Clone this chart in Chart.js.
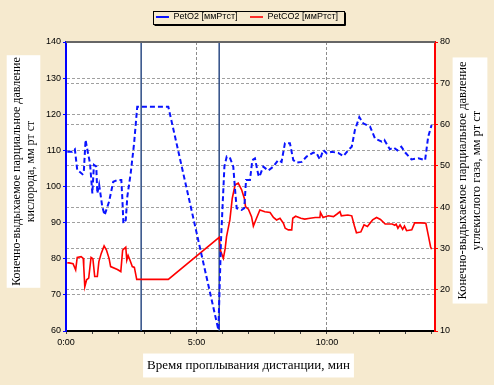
<!DOCTYPE html>
<html>
<head>
<meta charset="utf-8">
<script src="https://cdn.jsdelivr.net/npm/chart.js@4.4.1/dist/chart.umd.min.js"></script>
<style>
  html, body { margin: 0; padding: 0; background: #f6eacf; }
  #wrap { width: 494px; height: 385px; }
</style>
</head>
<body>
<div id="wrap"><canvas id="petChart" width="494" height="385"></canvas></div>
<script>
// time in minutes, values in mm Hg
const o2Minutes = [0.05, 0.24, 0.34, 0.43, 0.63, 0.68, 0.75, 0.82, 0.92, 1.01, 1.07, 1.16, 1.20, 1.27, 1.39, 1.48, 1.65, 1.81, 1.97, 2.12, 2.16, 2.20, 2.29, 2.35, 2.48, 2.61, 2.73, 3.92, 5.84, 5.94, 6.07, 6.16, 6.29, 6.41, 6.48, 6.54, 6.73, 6.83, 6.90, 7.05, 7.14, 7.24, 7.37, 7.41, 7.56, 7.75, 7.94, 8.13, 8.26, 8.39, 8.58, 8.71, 8.84, 9.03, 9.22, 9.48, 9.60, 9.73, 9.86, 9.99, 10.18, 10.43, 10.63, 10.82, 10.95, 11.07, 11.24, 11.39, 11.65, 11.84, 12.10, 12.20, 12.41, 12.55, 12.70, 12.85, 13.00, 13.24, 13.50, 13.76, 13.88, 14.01];
const o2Values = [109.6, 109.6, 110.3, 104.6, 103.4, 103.8, 112.9, 110.1, 106.4, 98.1, 106.0, 105.5, 98.1, 100.5, 94.4, 92.1, 95.8, 101.3, 101.8, 101.8, 96.5, 89.8, 90.7, 97.2, 103.7, 112.0, 122.1, 122.1, 60.3, 85.2, 105.5, 108.3, 107.8, 105.5, 99.0, 94.0, 93.5, 94.0, 101.8, 101.8, 107.3, 107.8, 103.2, 102.7, 105.5, 104.4, 105.5, 107.3, 106.8, 112.0, 112.0, 107.3, 106.6, 106.8, 108.3, 109.4, 109.2, 107.5, 110.1, 109.2, 109.6, 109.3, 108.4, 110.1, 111.0, 115.6, 119.2, 117.5, 116.6, 113.3, 112.4, 112.9, 110.3, 110.8, 110.0, 111.0, 109.4, 107.5, 107.8, 107.3, 113.8, 117.0];

const co2Minutes = [0.05, 0.12, 0.27, 0.37, 0.43, 0.58, 0.66, 0.68, 0.72, 0.79, 0.87, 0.96, 1.03, 1.10, 1.20, 1.26, 1.35, 1.46, 1.55, 1.65, 1.71, 1.97, 2.10, 2.17, 2.29, 2.33, 2.38, 2.46, 2.54, 2.62, 2.71, 3.92, 5.87, 5.92, 6.03, 6.10, 6.15, 6.28, 6.37, 6.48, 6.60, 6.73, 6.84, 6.88, 6.99, 7.11, 7.18, 7.30, 7.43, 7.62, 7.82, 7.95, 8.07, 8.20, 8.33, 8.40, 8.52, 8.65, 8.69, 8.80, 9.00, 9.15, 9.35, 9.55, 9.73, 9.75, 9.85, 10.05, 10.25, 10.40, 10.50, 10.55, 10.80, 10.95, 11.05, 11.13, 11.30, 11.42, 11.55, 11.75, 11.90, 12.05, 12.23, 12.50, 12.60, 12.65, 12.72, 12.80, 12.90, 12.97, 13.05, 13.25, 13.36, 13.60, 13.79, 13.88, 13.97, 14.01];
const co2Values = [26.5, 26.5, 26.3, 24.8, 27.8, 28.0, 27.6, 25.6, 20.7, 22.4, 22.8, 27.8, 27.5, 23.2, 23.2, 26.8, 28.8, 30.6, 29.6, 27.6, 25.6, 24.9, 24.4, 29.6, 30.3, 27.2, 28.3, 27.0, 25.6, 25.4, 22.5, 22.5, 32.7, 29.5, 27.6, 30.0, 32.8, 36.9, 42.1, 45.4, 45.8, 44.2, 42.0, 40.1, 39.5, 37.7, 35.4, 37.3, 39.3, 38.9, 38.7, 37.5, 36.9, 37.3, 36.1, 34.9, 34.5, 34.5, 37.3, 37.8, 37.3, 37.1, 37.3, 37.5, 37.5, 38.7, 37.5, 37.9, 37.7, 38.4, 38.9, 37.9, 38.1, 37.9, 35.5, 33.8, 34.0, 35.7, 35.3, 36.9, 37.5, 37.0, 35.9, 35.9, 35.6, 35.9, 34.9, 35.7, 34.6, 35.4, 34.3, 34.5, 36.2, 36.2, 36.1, 33.3, 30.4, 29.8];

// vertical marker lines (minutes)
const markerMinutes = [2.88, 5.87];

const o2Range = [60, 140];
const co2Range = [10, 80];
const timeRange = [0, 14.14];

const o2Title = ['Конечно-выдыхаемое парциальное давление', 'кислорода, мм рт ст'];
const co2Title = ['Конечно-выдыхаемое парциальное давление', 'углекислого газа, мм рт ст'];
const timeTitle = 'Время проплывания дистанции, мин';

function toPoints(xs, ys) {
    return xs.map((x, i) => ({ x: x, y: ys[i] }));
}

function fmtTime(v) {
    const m = Math.floor(v);
    const s = Math.round((v - m) * 60);
    return m + ':' + String(s).padStart(2, '0');
}

// white plot area, top border, legend frame, boxed axis titles
const decor = {
    id: 'decor',
    beforeInit(chart) {
        const lg = chart.legend;
        if (lg && !lg._patched) {
            const fit = lg.fit;
            lg.fit = function () { fit.call(this); this.height = 42; };
            lg._patched = true;
        }
    },
    beforeDraw(chart) {
        const { ctx, chartArea: a } = chart;
        ctx.save();
        ctx.fillStyle = '#ffffff';
        ctx.fillRect(a.left, a.top, a.right - a.left, a.bottom - a.top);
        ctx.restore();
    },
    afterDraw(chart) {
        const { ctx, chartArea: a } = chart;
        ctx.save();
        ctx.strokeStyle = '#666666';
        ctx.lineWidth = 2;
        ctx.beginPath();
        ctx.moveTo(a.left, a.top);
        ctx.lineTo(a.right, a.top);
        ctx.stroke();

        // legend frame
        const hb = chart.legend.legendHitBoxes;
        if (hb && hb.length) {
            const first = hb[0], last = hb[hb.length - 1];
            const x0 = Math.round(first.left - 3) + 0.5;
            const x1 = Math.round(last.left + last.width + 6) + 0.5;
            const y0 = Math.round(first.top - 2) + 0.5;
            const y1 = Math.round(first.top + first.height + 2) + 0.5;
            ctx.lineWidth = 1;
            ctx.strokeStyle = '#000000';
            ctx.strokeRect(x0, y0, x1 - x0, y1 - y0);
            ctx.beginPath();
            ctx.moveTo(x1 + 1, y0 + 1);
            ctx.lineTo(x1 + 1, y1 + 1);
            ctx.lineTo(x0 + 1, y1 + 1);
            ctx.stroke();
        }

        boxedText(ctx, o2Title, '12px "Liberation Serif"', 23.5, 171.5, true, 2, 3);
        boxedText(ctx, co2Title, '12.5px "Liberation Serif"', 470, 180.5, true, 4, 3);
        boxedText(ctx, [timeTitle], '13px "Liberation Serif"', 248.5, 365.5, false, 4, 4.5);
        ctx.restore();
    }
};

function boxedText(ctx, lines, font, cx, cy, rotated, padLong, padShort) {
    ctx.save();
    ctx.font = font;
    const lh = parseFloat(font) * 1.15;
    let w = 0;
    lines.forEach(l => { w = Math.max(w, ctx.measureText(l).width); });
    const h = lh * lines.length;
    ctx.translate(cx, cy);
    if (rotated) ctx.rotate(-Math.PI / 2);
    ctx.fillStyle = '#ffffff';
    ctx.fillRect(-w / 2 - padLong, -h / 2 - padShort, w + padLong * 2, h + padShort * 2);
    ctx.fillStyle = '#000000';
    ctx.textAlign = 'center';
    ctx.textBaseline = 'middle';
    lines.forEach((l, i) => {
        ctx.fillText(l, 0, (i - (lines.length - 1) / 2) * lh);
    });
    ctx.restore();
}

const markerSets = markerMinutes.map(t => ({
    label: 'marker',
    data: [{ x: t, y: o2Range[0] }, { x: t, y: o2Range[1] }],
    yAxisID: 'yO2',
    borderColor: '#2d4c85',
    borderWidth: 1.5,
    pointRadius: 0
}));

const tickFont = { family: '"Liberation Sans", Arial, sans-serif', size: 9 };

new Chart(document.getElementById('petChart'), {
    type: 'line',
    data: {
        datasets: [
            {
                label: 'PetO2 [ммРтст]',
                data: toPoints(o2Minutes, o2Values),
                yAxisID: 'yO2',
                borderColor: '#0a14ff',
                borderWidth: 2,
                borderDash: [5, 3],
                pointRadius: 0,
                tension: 0
            },
            {
                label: 'PetCO2 [ммРтст]',
                data: toPoints(co2Minutes, co2Values),
                yAxisID: 'yCO2',
                borderColor: '#ff0000',
                borderWidth: 1.6,
                pointRadius: 0,
                tension: 0
            }
        ].concat(markerSets)
    },
    options: {
        responsive: false,
        devicePixelRatio: 1,
        animation: false,
        layout: { padding: 0 },
        plugins: {
            legend: {
                position: 'top',
                labels: {
                    filter: item => item.text !== 'marker',
                    usePointStyle: true,
                    pointStyle: 'line',
                    pointStyleWidth: 13,
                    padding: 12.5,
                    color: '#000000',
                    font: { family: '"Liberation Sans", Arial, sans-serif', size: 9 }
                }
            },
            tooltip: { enabled: false }
        },
        scales: {
            x: {
                type: 'linear',
                min: timeRange[0],
                max: timeRange[1],
                afterFit: s => { s.height = 54; },
                border: { color: '#000000', width: 2, dash: [3, 2] },
                grid: {
                    color: c => (c.tick && c.tick.value > 0 && c.tick.value % 5 === 0) ? '#8c8c8c' : 'rgba(0,0,0,0)',
                    tickColor: '#444444',
                    tickLength: 3
                },
                ticks: {
                    stepSize: 1,
                    autoSkip: false,
                    includeBounds: false,
                    maxRotation: 0,
                    padding: 3,
                    color: '#000000',
                    font: tickFont,
                    callback: v => (v % 5 === 0 ? fmtTime(v) : '')
                }
            },
            yO2: {
                type: 'linear',
                position: 'left',
                min: o2Range[0],
                max: o2Range[1],
                afterFit: s => { s.width = 66; },
                border: { color: '#0000ff', width: 2, dash: [3, 2] },
                grid: { color: '#a0a0a0', tickColor: '#0000ff', tickLength: 3 },
                ticks: { stepSize: 10, padding: 2, color: '#000000', font: tickFont }
            },
            yCO2: {
                type: 'linear',
                position: 'right',
                min: co2Range[0],
                max: co2Range[1],
                afterFit: s => { s.width = 59; },
                border: { color: '#ff0000', width: 2, dash: [3, 2] },
                grid: { color: '#a0a0a0', tickColor: '#ff0000', tickLength: 3 },
                ticks: { stepSize: 10, padding: 2, color: '#000000', font: tickFont }
            }
        }
    },
    plugins: [decor]
});
</script>
</body>
</html>
